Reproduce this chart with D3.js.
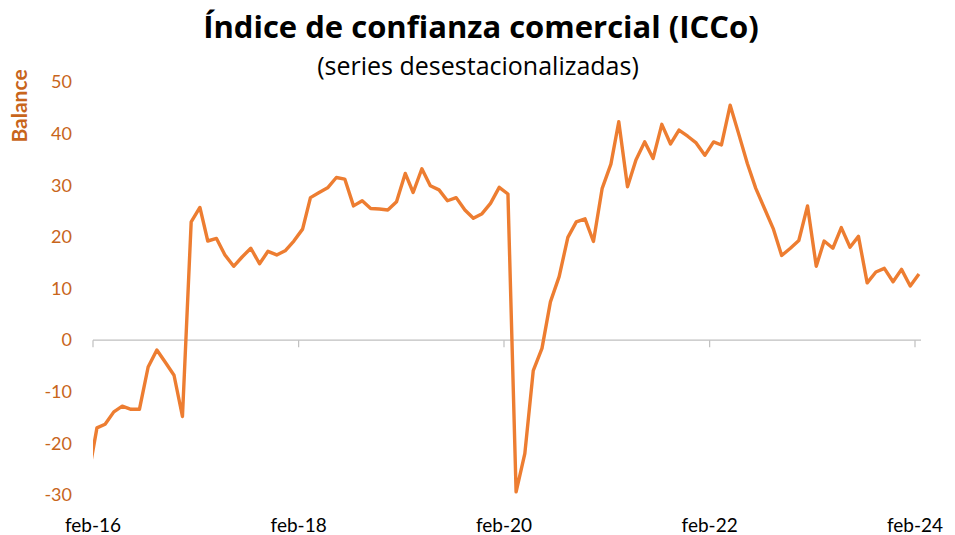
<!DOCTYPE html>
<html>
<head>
<meta charset="utf-8">
<script src="https://cdn.jsdelivr.net/npm/d3@7"></script>
<style>
  body { margin: 0; background: #fff; }
  text { font-family: Lato, "Open Sans", sans-serif; }
</style>
</head>
<body>
<div id="chart-area"></div>
<script>
// SVG size
var width = 955,
	height = 535;

// first month of the series (ene-16 sits just outside the plot and gets clipped)
var firstMonth = new Date(2016, 0, 15);

// ICCo balance, monthly, ene-16 .. feb-24
var icco = [
	-26.5,
	-17.0, -16.3, -13.9, -12.8, -13.4, -13.4, -5.2, -1.9, -4.3, -6.8, -14.8,
	22.9, 25.7, 19.2, 19.7, 16.5, 14.3, 16.1, 17.8, 14.8, 17.2, 16.5, 17.3,
	19.2, 21.5, 27.6, 28.6, 29.5, 31.5, 31.2, 26.0, 27.0, 25.5, 25.4, 25.2,
	26.8, 32.3, 28.6, 33.2, 29.9, 29.1, 27.0, 27.6, 25.2, 23.6, 24.5, 26.5,
	29.6, 28.3, -29.4, -22.0, -5.9, -1.6, 7.4, 12.3, 19.9, 22.9, 23.5, 19.1,
	29.4, 34.1, 42.3, 29.7, 34.9, 38.4, 35.2, 41.8, 38.0, 40.7, 39.5, 38.2,
	35.8, 38.4, 37.8, 45.5, 40.0, 34.2, 29.4, 25.5, 21.6, 16.4, 17.8, 19.3,
	26.0, 14.3, 19.2, 17.8, 21.8, 18.0, 20.1, 11.1, 13.2, 13.9, 11.3, 13.7,
	10.5, 12.8
];

var months = d3.range(icco.length).map(function(i) {
	return d3.timeMonth.offset(firstMonth, i);
});

var data = icco.map(function(v, i) {
	return { date: months[i], value: v };
});

// axis labels
var yTicks = [-30, -20, -10, 0, 10, 20, 30, 40, 50];
var xTickDates = [new Date(2016, 1, 1), new Date(2018, 1, 1), new Date(2020, 1, 1), new Date(2022, 1, 1), new Date(2024, 1, 1)];
var xTickLabels = ["feb-16", "feb-18", "feb-20", "feb-22", "feb-24"];

var orange = "#ED7D31",
	labelOrange = "#C8651B";

var svg = d3.select("#chart-area").append("svg")
	.attr("width", width)
	.attr("height", height);

// scales
var x = d3.scaleTime()
	.domain([xTickDates[0], xTickDates[4]])
	.range([93, 915]);

var y = d3.scaleLinear()
	.domain([-30, 50])
	.range([495, 82]);

// title
svg.append("text")
	.attr("x", 481)
	.attr("y", 38)
	.attr("text-anchor", "middle")
	.style("font-family", "'Open Sans', sans-serif")
	.style("font-size", "31px")
	.style("font-weight", "bold")
	.text("Índice de confianza comercial (ICCo)");

svg.append("text")
	.attr("x", 478)
	.attr("y", 75)
	.attr("text-anchor", "middle")
	.style("font-family", "'Open Sans', sans-serif")
	.style("font-size", "25px")
	.text("(series desestacionalizadas)");

// y labels (no axis line)
svg.append("g")
	.selectAll("text")
	.data(yTicks)
	.enter()
	.append("text")
	.attr("x", 72)
	.attr("y", function(d) { return y(d); })
	.attr("dy", "0.35em")
	.attr("text-anchor", "end")
	.attr("fill", labelOrange)
	.style("font-size", "18px")
	.text(function(d) { return d; });

svg.append("text")
	.attr("transform", "translate(27,106) rotate(-90)")
	.attr("text-anchor", "middle")
	.attr("fill", labelOrange)
	.style("font-size", "21px")
	.style("font-weight", "bold")
	.text("Balance");

// zero line with ticks
var axisG = svg.append("g");
axisG.append("line")
	.attr("x1", 93).attr("x2", 921)
	.attr("y1", y(0)).attr("y2", y(0))
	.attr("stroke", "#BFBFBF")
	.attr("stroke-width", 1.2);
axisG.selectAll(".tick")
	.data(xTickDates)
	.enter()
	.append("line")
	.attr("class", "tick")
	.attr("x1", function(d) { return x(d); })
	.attr("x2", function(d) { return x(d); })
	.attr("y1", y(0))
	.attr("y2", y(0) + 7)
	.attr("stroke", "#BFBFBF")
	.attr("stroke-width", 1.2);

// x labels at bottom
svg.append("g")
	.selectAll("text")
	.data(xTickDates)
	.enter()
	.append("text")
	.attr("x", function(d) { return x(d); })
	.attr("y", 532)
	.attr("text-anchor", "middle")
	.style("font-size", "19px")
	.text(function(d, i) { return xTickLabels[i]; });

// line, clipped to the plot area like the original
svg.append("clipPath")
	.attr("id", "plot-clip")
	.append("rect")
	.attr("x", 93).attr("y", 60)
	.attr("width", 840).attr("height", 450);

var line = d3.line()
	.x(function(d) { return x(d.date); })
	.y(function(d) { return y(d.value); });

svg.append("path")
	.datum(data)
	.attr("clip-path", "url(#plot-clip)")
	.attr("d", line)
	.attr("fill", "none")
	.attr("stroke", orange)
	.attr("stroke-width", 3.4)
	.attr("stroke-linejoin", "round");
</script>
</body>
</html>
